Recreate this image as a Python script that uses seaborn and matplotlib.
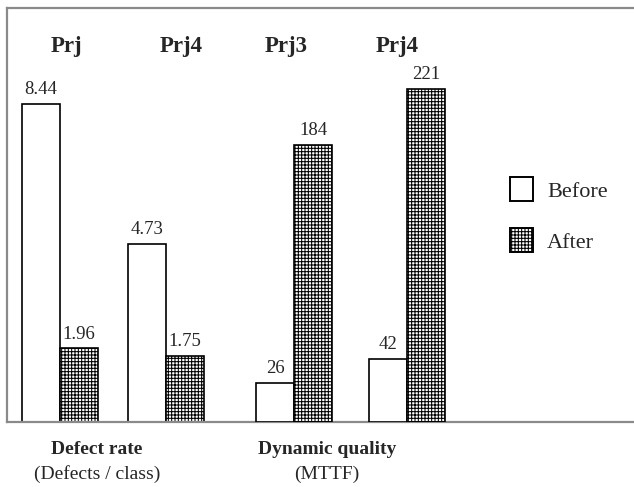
import pandas as pd
import seaborn as sns
import matplotlib.pyplot as plt
from matplotlib.patches import Patch

# ---- data -------------------------------------------------------------
projects = ["Prj", "Prj4", "Prj3", "Prj4"]
metrics = ["Defect rate", "Defect rate", "Dynamic quality", "Dynamic quality"]
metric_units = ["(Defects / class)", "(MTTF)"]
before = [8.44, 4.73, 26, 42]
after = [1.96, 1.75, 184, 221]
phases = ["Before", "After"]

# ---- layout (pixels measured from the left edge of the plot area) -----
W, H = 634, 487
AX_LEFT, AX_TOP, AX_BOTTOM = 7, 8, 422
group_x = [53, 159, 287, 400]          # centre of each pair of bars
BAR_W = 38                             # one bar width
prj_label_x = [59, 174, 279, 390]
metric_label_x = [90, 320]

sns.set_theme(style="white")
plt.rcParams["font.family"] = ["Liberation Serif", "DejaVu Serif"]
plt.rcParams["hatch.color"] = "#2e2e2e"
plt.rcParams["hatch.linewidth"] = 0.75

rows = []
for i, (p, m, b, a) in enumerate(zip(projects, metrics, before, after)):
    for phase, v, off in (("Before", b, -0.5), ("After", a, 0.5)):
        rows.append(dict(x=group_x[i] + off * BAR_W, value=v,
                         phase=phase, metric=m, project=p))
df = pd.DataFrame(rows)

fig = plt.figure(figsize=(W / 100, H / 100), dpi=100)
ax1 = fig.add_axes([AX_LEFT / W, (H - AX_BOTTOM) / H,
                    (W - AX_LEFT) / W, (AX_BOTTOM - AX_TOP) / H])
ax2 = ax1.twinx()

HATCH_KEY = "#777777"
pal = {"Before": "white", "After": HATCH_KEY}

for ax, metric in ((ax1, "Defect rate"), (ax2, "Dynamic quality")):
    sns.barplot(data=df[df.metric == metric], x="x", y="value", hue="phase",
                hue_order=phases, palette=pal, native_scale=True, dodge=False,
                width=1.0, edgecolor="black", linewidth=1.2, errorbar=None,
                legend=False, ax=ax)
    for patch in ax.patches:
        fc = patch.get_facecolor()
        if abs(fc[0] - 0x77 / 255) < 0.01:
            patch.set_facecolor("white")
            patch.set_hatch("+++++")
    for cont in ax.containers:
        if len(cont.datavalues):
            ax.bar_label(cont, labels=[f"{v:g}" for v in cont.datavalues],
                         padding=4, fontsize=13.5)
    ax.set_xlabel("")
    ax.set_ylabel("")
    ax.set_xticks([])
    ax.set_yticks([])

ax1.set_xlim(0, W - AX_LEFT)
ax1.set_ylim(0, 10.98)
ax2.set_ylim(0, 274.7)

for name, sp in ax1.spines.items():
    sp.set_visible(name != "right")
    sp.set_color("#8a8a8a")
    sp.set_linewidth(1.6)
for sp in ax2.spines.values():
    sp.set_visible(False)

# project names above the bars
trans = ax1.get_xaxis_transform()
for x, p in zip(prj_label_x, projects):
    ax1.text(x, (AX_BOTTOM - 52) / (AX_BOTTOM - AX_TOP), p, transform=trans,
             ha="center", va="baseline", fontsize=16.5, fontweight="bold")

# metric names below the axis
for x, m, u in zip(metric_label_x, ["Defect rate", "Dynamic quality"], metric_units):
    fig.text((x + AX_LEFT) / W, 1 - 450 / H, m, ha="center", va="center",
             fontsize=14, fontweight="bold")
    fig.text((x + AX_LEFT) / W, 1 - 474 / H, u, ha="center", va="center",
             fontsize=14)

handles = [Patch(facecolor="white", edgecolor="black", linewidth=1.4),
           Patch(facecolor="white", edgecolor="black", linewidth=1.4, hatch="+++++")]
fig.legend(handles, phases, loc="upper left",
           bbox_to_anchor=(510 / W, 1 - 177 / H), frameon=False,
           fontsize=16, borderpad=0, borderaxespad=0,
           handlelength=1.04, handleheight=1.3, handletextpad=0.63,
           labelspacing=1.2)

fig.savefig("out.png", dpi=100)
